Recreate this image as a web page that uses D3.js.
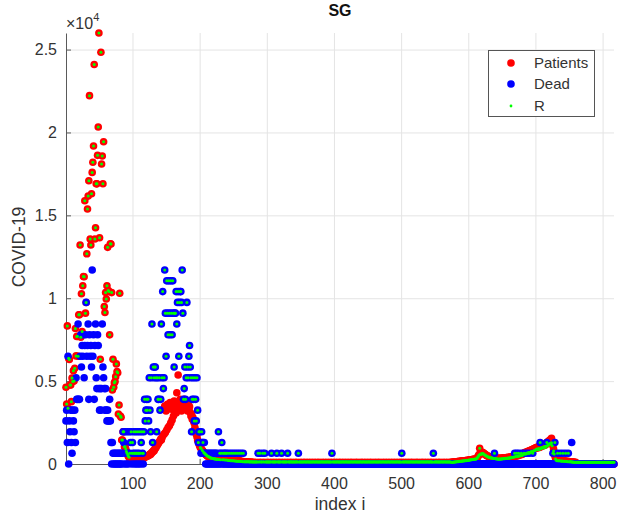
<!DOCTYPE html>
<html><head><meta charset="utf-8">
<script src="https://cdn.jsdelivr.net/npm/d3@7"></script>
<style>body{margin:0;background:#fff}svg{display:block}text{font-family:"Liberation Sans",Arial,sans-serif}</style>
</head><body><svg id="c" width="620" height="513"></svg>
<script>
// index i = 1..817
const patients = [
4630,3620,8330,3360,6380,6300,4770,4770,3760,5190,
4970,5630,5000,5780,8170,6520,7690,7700,6500,9000,
9000,13210,7650,10270,7990,10750,11310,11300,15880,9100,
9740,12680,15380,16160,17090,22220,13570,13210,16300,17590,
18200,19180,24100,13570,14250,16910,16900,18620,20330,26000,
13650,6320,24840,18100,18580,16910,19440,9500,9140,10340,
9950,10750,13070,10470,10400,7790,13290,13270,10340,4470,
6320,4630,4900,4970,5270,6040,5570,5500,3020,3560,
10300,2900,2820,1450,1450,1950,1950,1040,1040,900,
750,650,550,450,400,300,260,220,200,180,
200,150,180,200,170,210,230,200,250,240,
280,260,300,330,310,360,400,380,420,450,
470,500,480,520,540,600,580,650,700,720,
800,780,880,950,1000,1080,1150,1200,1280,1350,
1400,1500,1450,1600,1700,3300,1800,3500,1900,3200,
2050,3600,2200,3400,2300,3700,2480,3300,2660,3500,
2900,3800,3100,3400,3080,4300,3600,5370,3300,3700,
3900,3780,3200,3600,3680,3400,3900,3500,3300,3700,
3450,3200,3600,3300,3460,3100,2900,3000,2700,2800,
2600,2460,2200,2000,1800,1650,1450,1350,1200,1100,
1000,950,880,820,760,700,660,620,580,540,
500,470,450,420,400,380,360,350,340,330,
320,330,310,320,300,310,300,290,300,290,
290,280,290,270,280,270,260,270,260,250,
250,240,230,240,230,220,230,220,210,220,
210,200,210,200,190,200,190,180,190,180,
150,160,150,140,150,140,130,140,130,120,
120,110,120,110,100,110,100,100,90,100,
70,80,90,80,70,80,90,70,80,80,
90,80,70,80,90,80,70,90,80,70,
80,90,80,70,80,80,90,70,80,90,
80,70,80,90,80,70,80,90,80,80,
70,80,90,80,70,80,80,90,70,80,
90,80,70,80,90,80,80,70,90,80,
70,80,90,80,80,70,90,80,70,80,
90,80,70,80,90,80,80,70,80,90,
80,70,80,90,80,70,80,80,90,70,
80,90,80,70,80,90,80,80,70,90,
80,70,80,90,80,70,90,80,80,70,
80,90,80,70,80,90,80,70,80,80,
90,70,80,90,80,70,80,90,80,80,
70,80,90,80,70,90,80,80,70,80,
90,80,70,80,90,80,80,70,90,80,
70,80,90,80,80,70,90,80,70,80,
90,80,80,70,80,90,80,70,80,90,
80,70,80,90,80,80,70,90,80,70,
80,90,80,70,80,90,80,80,70,90,
80,70,80,90,80,70,90,80,80,70,
80,90,80,70,80,90,80,70,80,80,
90,70,80,90,80,70,80,90,80,80,
70,80,90,80,70,90,80,80,70,80,
90,80,70,80,90,80,80,70,90,80,
70,80,90,80,80,70,90,80,70,80,
90,80,80,70,80,90,80,70,80,90,
80,70,80,90,80,80,70,90,80,70,
80,90,80,70,80,90,80,80,70,90,
80,70,80,90,80,70,90,80,80,70,
80,90,80,90,100,
100,110,120,110,130,120,140,130,150,140,160,150,170,160,180,170,190,180,200,190,210,200,220,210,230,
240,230,250,260,250,270,280,270,290,300,290,310,350,420,500,570,
950,
650,620,680,700,680,650,620,580,560,520,500,480,460,
440,430,420,400,410,390,380,370,360,370,350,340,350,340,330,340,340,330,350,340,360,350,370,360,380,370,390,380,400,390,410,400,420,410,430,440,450,
460,480,470,500,480,520,500,540,560,540,580,600,580,620,650,630,680,700,680,720,750,730,780,800,780,820,850,830,880,900,920,950,960,
980,1000,960,1020,1050,1000,1080,1100,1050,1120,1150,1100,1180,1200,1150,1250,1300,1250,1350,1400,1380,1450,1500,1550,
1300,1100,900,700,500,350,240,
230,220,230,210,220,200,210,190,200,180,190,170,180,160,170,150,160,140,150,130,140,120,130,110,120,100,110,90,100,
0,0,0,0,0,0,0,0,0,0,
0,0,0,0,0,0,0,0,0,0,
0,0,0,0,0,0,0,0,0,0,
0,0,0,0,0,0,0,0,0,0,
0,0,0,0,0,0,0,0,0,0,
0,0,0,0,0,0,0
];
const dead = [
2600,3250,1300,6500,0,2600,1950,3250,1300,650,
3250,2600,1950,3250,1300,5200,3900,3900,8450,3900,
3900,6500,7800,5850,7150,6500,7800,5200,7150,7800,
9750,6500,7150,8450,3900,7800,6500,7150,5850,11700,
6500,7800,3900,7150,8450,5200,4550,7800,7150,4550,
3250,4550,3250,4550,8450,5850,5200,4550,3250,4550,
3250,2600,3250,2600,2600,3900,2600,1300,0,1300,
650,0,650,0,650,0,650,0,650,0,
650,0,650,0,650,1950,1300,0,1950,650,
0,1950,650,0,1950,650,1300,1950,0,1300,
650,1950,0,650,1950,0,650,1950,0,650,
1950,0,1300,1950,650,0,1950,3900,2600,3250,
3900,3250,3900,2600,5200,3250,1950,5200,8450,1300,
5850,5200,5850,5850,5200,1950,5200,3900,3900,5200,
3250,3900,8450,5200,10400,4550,5200,11700,9100,6500,
11050,9100,7800,11050,9100,7800,11050,9100,7800,11050,
9100,5850,9100,9100,10400,8450,9750,10400,6500,9750,
10400,10400,9750,11700,9100,3900,4550,5850,3900,5200,
9750,5850,5200,6500,7150,5850,5200,1950,3900,5200,
3900,2600,5200,3900,2600,5200,3250,1300,1950,1950,
1300,650,1950,1300,1300,650,1300,650,0,650,
0,650,0,650,0,650,0,650,0,650,
0,650,0,650,0,650,0,1950,0,650,
0,650,1300,0,650,0,650,0,650,0,
650,0,0,650,0,0,650,0,0,650,
0,0,650,0,0,650,0,0,650,0,
0,650,0,0,650,0,0,0,0,0,
0,0,0,0,0,0,0,0,0,0,
0,0,0,0,0,0,650,0,0,650,
0,0,0,650,0,0,650,0,0,0,
0,0,0,0,0,0,650,0,0,0,
0,0,0,0,650,0,0,0,0,0,
0,650,0,0,0,0,0,0,0,0,
650,0,0,0,0,0,0,0,0,0,
0,0,0,0,0,0,650,0,0,0,
0,0,0,0,0,0,0,0,0,0,
0,0,0,0,0,0,0,0,0,0,
0,0,0,0,0,0,0,0,0,0,
0,0,0,0,0,0,0,0,0,0,
0,0,0,0,0,0,650,0,0,0,
0,0,0,0,0,0,0,0,0,0,
0,0,0,0,0,0,0,0,0,0,
0,0,0,0,0,0,0,0,0,0,
0,0,0,0,0,0,0,0,0,0,
0,0,0,0,0,0,0,0,0,0,
0,0,0,0,0,0,0,0,0,0,
0,0,0,0,0,0,0,0,0,0,
0,0,0,0,0,0,0,0,0,0,
0,0,0,0,0,0,0,0,0,0,
0,0,0,0,0,0,0,0,0,0,
650,0,0,0,0,0,0,0,0,0,
0,0,0,0,0,0,0,0,0,0,
0,0,0,0,0,0,0,0,0,0,
0,0,0,0,0,0,0,0,0,0,
0,0,0,0,0,0,0,650,0,0,
0,0,0,0,0,0,0,0,0,0,
0,0,0,0,0,0,0,0,0,0,
0,0,0,0,0,0,0,0,0,0,
0,0,0,0,0,0,0,0,0,0,
0,0,0,0,0,0,0,0,0,0,
0,0,0,0,0,0,0,0,0,0,
0,0,0,0,0,0,0,0,0,0,
0,0,0,0,0,0,0,0,0,0,
0,0,0,0,0,0,0,0,650,0,
0,0,0,0,0,0,0,0,0,0,
0,0,0,0,0,0,0,0,0,0,
0,0,0,0,0,0,0,0,650,0,
0,650,0,0,650,0,0,0,650,0,
0,0,650,0,0,0,650,0,0,0,
650,0,0,0,0,650,0,0,0,0,
0,0,0,0,0,0,1300,0,0,0,
0,0,0,0,0,0,1300,0,0,0,
0,0,0,0,0,650,0,0,1300,0,
0,0,650,0,0,0,650,0,0,0,
650,0,0,0,650,0,0,0,650,0,
0,0,0,1300,0,0,0,0,0,0,
0,0,0,0,0,0,0,0,0,0,
0,0,0,0,0,0,0,0,0,0,
0,0,0,0,0,0,0,0,0,0,
0,0,0,0,0,0,0,0,0,0,
0,0,0,0,0,0,0,0,0,0,
0,0,0,0,0,0,0
];
const recovered = [
4630,3620,8330,3360,6380,6300,4770,4770,3760,5190,
4970,5630,5000,5780,8170,6520,7690,7700,6500,9000,
9000,13210,7650,10270,7990,10750,11310,11300,15880,9100,
9740,12680,15380,16160,17090,22220,13570,13210,16300,17590,
18200,19180,24100,13570,14250,16910,16900,18620,20330,26000,
13650,6320,24840,18100,18580,16910,19440,9500,9140,10340,
9950,10750,13070,10470,10400,7790,13290,13270,10340,4470,
6320,4630,4900,4970,5270,6040,5570,5500,3020,3560,
10300,2900,2820,1450,1450,1950,1950,1040,1040,900,
750,650,550,450,400,650,1300,1950,650,1300,
650,1950,650,650,1950,650,650,1950,650,650,
1950,650,1300,1950,650,650,1950,3900,2600,3250,
3900,3250,3900,2600,5200,3250,1950,5200,8450,1300,
5850,5200,5850,5850,5200,1950,5200,3900,3900,5200,
3250,3900,8450,5200,10400,4550,5200,11700,9100,6500,
11050,9100,7800,11050,9100,7800,11050,9100,7800,11050,
9100,5850,9100,9100,10400,8450,9750,10400,6500,9750,
10400,10400,9750,11700,9100,3900,4550,5850,3900,5200,
9750,5850,5200,6500,7150,5850,5200,1950,3900,5200,
3900,2600,5200,3900,2600,5200,3250,1300,1950,1950,
1000,950,1950,820,1300,700,660,620,580,540,
500,470,450,420,400,380,360,350,340,330,
320,310,300,300,290,280,280,1950,270,650,
260,650,1300,250,650,250,650,240,650,240,
650,220,210,650,210,200,650,200,190,650,
190,180,650,180,170,650,170,160,650,160,
150,650,150,140,650,140,140,130,140,130,
130,140,130,130,120,130,130,120,130,120,
120,130,120,120,130,120,650,120,130,650,
120,130,120,650,130,120,650,120,130,120,
120,130,120,120,130,120,650,130,120,120,
130,120,120,130,650,120,130,120,120,130,
120,650,130,120,120,130,120,120,130,120,
650,130,120,120,130,120,130,120,120,130,
120,120,130,120,130,120,650,120,130,120,
120,130,120,120,130,120,130,120,120,130,
120,130,120,120,130,120,120,130,120,130,
120,120,130,120,130,120,120,130,120,120,
130,120,130,120,120,130,120,120,130,120,
130,120,120,130,120,120,650,130,120,120,
130,120,120,130,120,130,120,120,130,120,
120,130,120,130,120,120,130,120,130,120,
120,130,120,120,130,120,130,120,120,130,
120,130,120,120,130,120,120,130,120,130,
120,120,130,120,130,120,120,130,120,120,
130,120,130,120,120,130,120,120,130,120,
130,120,120,130,120,120,130,120,130,120,
120,130,120,130,120,120,130,120,120,130,
120,130,120,120,130,120,130,120,120,130,
120,120,130,120,130,120,120,130,120,120,
650,120,130,120,120,130,120,130,120,120,
130,120,120,130,120,130,120,120,130,120,
120,130,120,130,120,120,130,120,120,130,
120,130,120,120,130,120,120,130,120,130,
120,120,130,120,130,120,120,650,120,120,
130,120,130,120,120,130,120,120,130,120,
130,120,120,130,120,130,120,120,130,120,
120,130,120,120,100,
100,110,120,110,130,120,140,130,150,140,160,150,170,160,180,170,190,180,200,190,210,200,220,210,230,
240,230,250,260,250,270,280,270,290,300,290,310,340,400,470,540,
950,
600,570,620,640,620,600,570,530,510,480,460,440,420,
400,390,380,360,370,350,340,330,650,330,310,300,310,300,290,300,300,290,310,300,320,310,330,320,340,330,350,340,360,350,370,360,380,370,390,400,410,
420,650,430,450,650,470,450,650,500,490,520,650,520,550,580,650,600,620,600,650,670,650,700,650,680,720,750,730,650,780,800,820,850,
870,900,860,900,930,880,1300,960,930,990,1000,970,1030,1050,1000,1080,1300,1080,1150,1200,1180,1250,1200,1280,
1100,650,780,600,1300,300,220,
200,650,200,190,190,650,180,170,180,650,170,160,160,650,150,150,140,650,140,130,130,130,120,120,120,110,110,110,110,
110,100,110,100,110,100,110,100,110,100,
110,100,110,100,110,100,110,100,110,100,
110,100,110,100,110,100,110,100,110,100,
110,100,110,100,110,100,110,100,110,100,
110,100,110,100,110,100,110,100,110,100,
110,100,110,100,110,100,110
];
const seriesNames = ["Patients", "Dead", "R"];
const seriesColors = ["#ff0000", "#0000ff", "#00ff00"];
const xTicks = [100, 200, 300, 400, 500, 600, 700, 800];
const yTicks = [0, 5000, 10000, 15000, 20000, 25000];
const yTickLabels = ["0", "0.5", "1", "1.5", "2", "2.5"];
const N = 817;

[patients, dead, recovered].forEach((a, k) => {
  if (a.length !== N) throw new Error(seriesNames[k] + " length " + a.length);
});

const svg = d3.select("#c");
const x = d3.scaleLinear().domain([1, N]).range([66, 614]);
const y = d3.scaleLinear().domain([0, 26000]).range([464, 33]);
const [x0, x1] = x.range();
const [y0, y1] = y.range();
const gridColor = "#e4e4e4", axisColor = "#5a5a5a", textColor = "#333";

// grid
svg.append("g").selectAll("line").data(xTicks).join("line")
  .attr("x1", d => x(d) + 0.5).attr("x2", d => x(d) + 0.5)
  .attr("y1", y0).attr("y2", y1).attr("stroke", gridColor);
svg.append("g").selectAll("line").data(yTicks.slice(1)).join("line")
  .attr("x1", x0).attr("x2", x1)
  .attr("y1", d => y(d) + 0.5).attr("y2", d => y(d) + 0.5).attr("stroke", gridColor);

// axes
const gx = svg.append("g").attr("transform", `translate(0,${y0})`)
  .call(d3.axisBottom(x).tickValues(xTicks).tickSizeInner(-5).tickSizeOuter(0).tickPadding(14));
const gy = svg.append("g").attr("transform", `translate(${x0},0)`)
  .call(d3.axisLeft(y).tickValues(yTicks).tickFormat((d, i) => yTickLabels[i]).tickSizeInner(-5).tickSizeOuter(0).tickPadding(9));
[gx, gy].forEach(g => {
  g.select(".domain").attr("stroke", axisColor);
  g.selectAll(".tick line").attr("stroke", axisColor);
  g.selectAll(".tick text").attr("fill", textColor).style("font-size", "16px")
   .style("font-family", '"Liberation Sans",Arial,sans-serif');
});

// points: Patients, Dead, R
const series = [patients, dead, recovered];
const radii = [3.8, 3.8, 1.5];
series.forEach((vals, k) => {
  svg.append("g").selectAll("circle").data(vals).join("circle")
    .attr("cx", (d, i) => x(i + 1)).attr("cy", d => y(d))
    .attr("r", radii[k]).attr("fill", seriesColors[k]);
});

// exponent
const ex = svg.append("text").attr("x", 66).attr("y", 29).attr("fill", textColor).style("font-size", "16px");
ex.append("tspan").text("×10");
ex.append("tspan").attr("dy", -8).style("font-size", "11px").text("4");

// title & labels
svg.append("text").attr("x", (x0 + x1) / 2).attr("y", 16).attr("text-anchor", "middle")
  .style("font-size", "16px").style("font-weight", "bold").attr("fill", "#111").text("SG");
svg.append("text").attr("x", (x0 + x1) / 2).attr("y", 510).attr("text-anchor", "middle")
  .style("font-size", "17.5px").attr("fill", textColor).text("index i");
svg.append("text").attr("transform", "translate(25,247) rotate(-90)").attr("text-anchor", "middle")
  .style("font-size", "17.5px").attr("fill", textColor).text("COVID-19");

// legend
const lg = svg.append("g").attr("transform", "translate(488,50)");
lg.append("rect").attr("x", 0.5).attr("y", 0.5).attr("width", 106).attr("height", 66)
  .attr("fill", "#fff").attr("stroke", "#555");
const rowY = [13, 34, 56];
seriesNames.forEach((name, k) => {
  lg.append("circle").attr("cx", 23).attr("cy", rowY[k]).attr("r", k === 2 ? 1.4 : 3.8).attr("fill", seriesColors[k]);
  lg.append("text").attr("x", 46).attr("y", rowY[k]).attr("dy", "0.35em")
    .style("font-size", "15px").attr("fill", textColor).text(name);
});
</script>
</body></html>
